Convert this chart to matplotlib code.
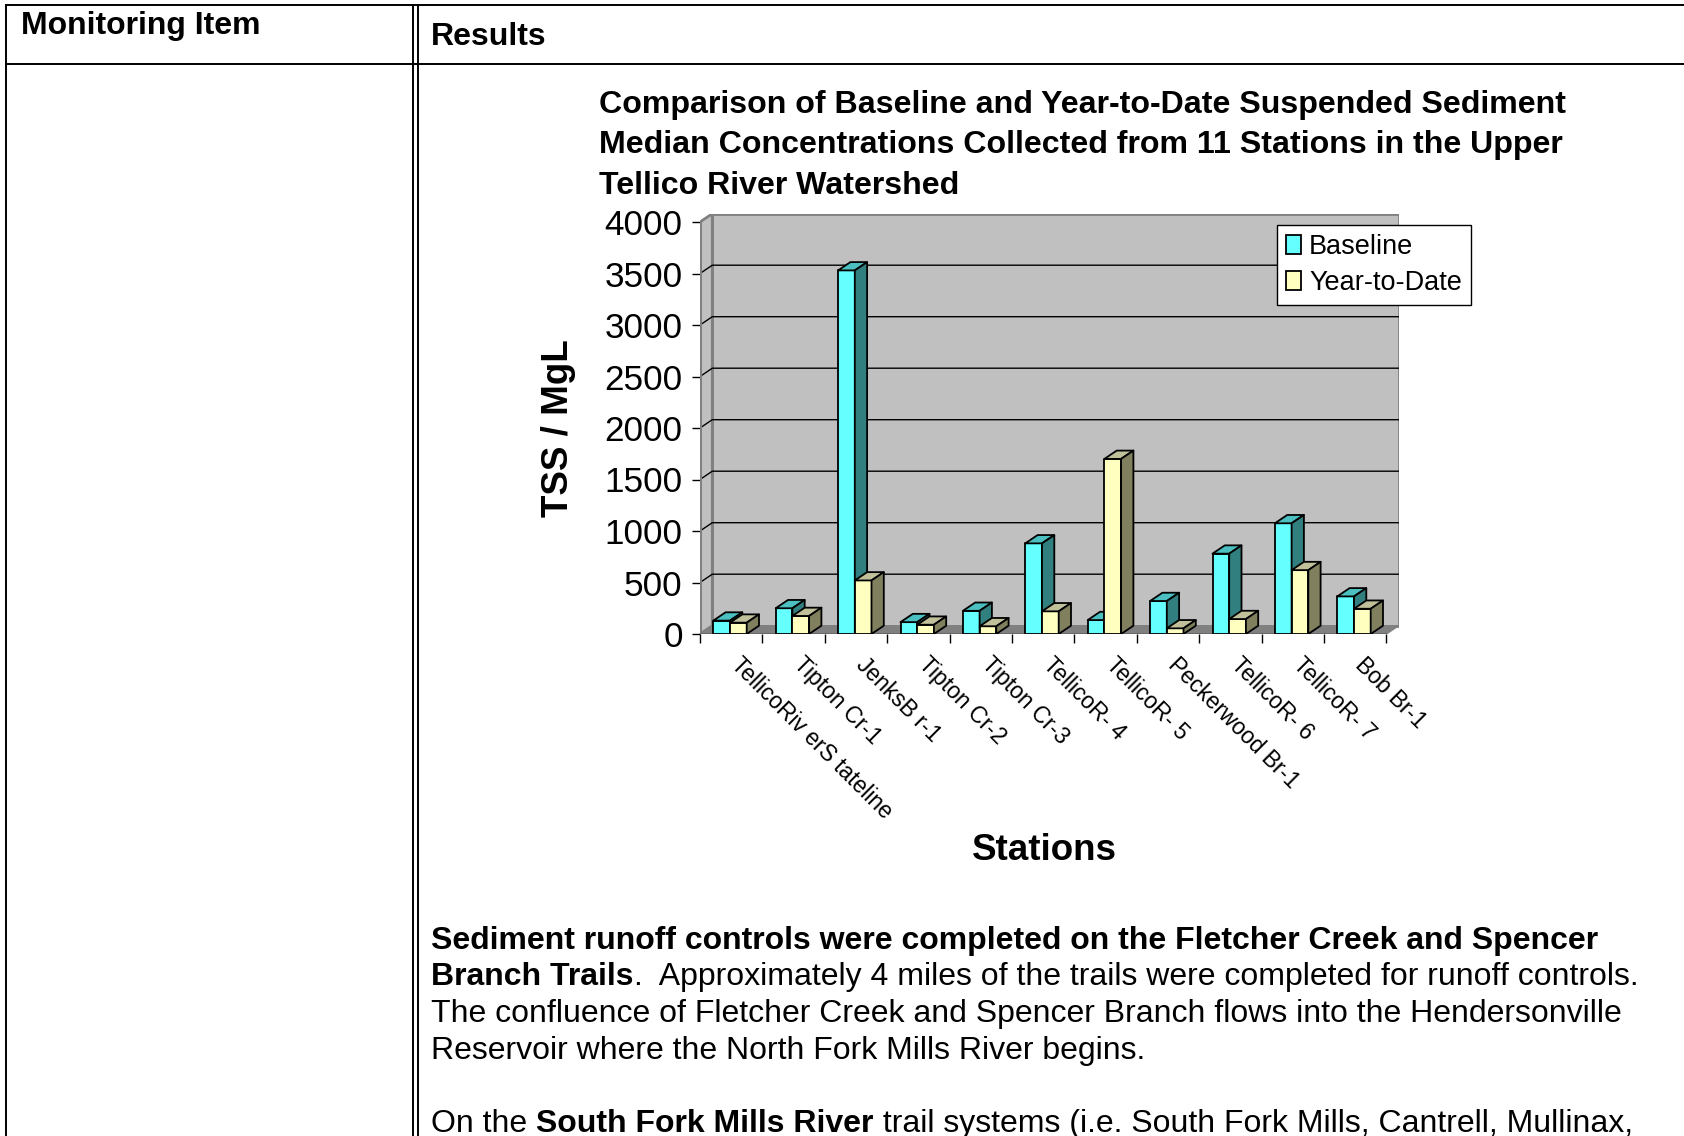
import matplotlib
matplotlib.use("Agg")
import matplotlib.pyplot as plt
import matplotlib.transforms as mtrans
from matplotlib.patches import Polygon, Patch

plt.rcParams['font.family'] = ['Liberation Sans', 'DejaVu Sans']

# ---- data ----
stations = ["TellicoRiv erS tateline", "Tipton Cr-1", "JenksB r-1", "Tipton Cr-2",
            "Tipton Cr-3", "TellicoR- 4", "TellicoR- 5", "Peckerwood Br-1",
            "TellicoR- 6", "TellicoR- 7", "Bob Br-1"]
baseline = [130, 250, 3530, 115, 225, 880, 135, 320, 780, 1075, 365]
year_to_date = [110, 175, 520, 90, 75, 220, 1700, 55, 145, 620, 245]
y_ticks = [0, 500, 1000, 1500, 2000, 2500, 3000, 3500, 4000]
series_names = ["Baseline", "Year-to-Date"]

title_lines = ["Comparison of Baseline and Year-to-Date Suspended Sediment",
               "Median Concentrations Collected from 11 Stations in the Upper",
               "Tellico River Watershed"]

body_lines = [
    [("Sediment runoff controls were completed on the Fletcher Creek and Spencer", "bold")],
    [("Branch Trails", "bold"),
     (".  Approximately 4 miles of the trails were completed for runoff controls.", "normal")],
    [("The confluence of Fletcher Creek and Spencer Branch flows into the Hendersonville", "normal")],
    [("Reservoir where the North Fork Mills River begins.", "normal")],
    [("On the", "normal"), (" South Fork Mills River", "bold"),
     (" trail systems (i.e. South Fork Mills, Cantrell, Mullinax,", "normal")],
]
body_baselines = [949, 985, 1022, 1059, 1132]

# colours (front, top, side)
cyan = ("#66FFFF", "#4CC0C0", "#327F7F")
cream = ("#FFFFC0", "#C0C09A", "#80805F")

W, H = 1684, 1136
fig = plt.figure(figsize=(W / 100, H / 100), dpi=100)

# background axes in pixel coordinates for the page/table
bg = fig.add_axes([0, 0, 1, 1])
bg.set_xlim(0, W)
bg.set_ylim(H, 0)
bg.axis('off')

lw_tab = 1.4
bg.plot([6, W], [5, 5], color='black', lw=lw_tab)
bg.plot([6, W], [64, 64], color='black', lw=lw_tab)
bg.plot([6, 6], [5, H], color='black', lw=lw_tab)
bg.plot([413, 413], [5, H], color='black', lw=lw_tab)
bg.plot([418, 418], [5, H], color='black', lw=lw_tab)

bg.text(21, 26, "Monitoring Item", fontsize=23, fontweight='bold', va='center', ha='left')
bg.text(431, 37, "Results", fontsize=23, fontweight='bold', va='center', ha='left')

for i, line in enumerate(title_lines):
    bg.text(599, 113 + i * 40.5, line, fontsize=23.1, fontweight='bold', va='baseline', ha='left')

bg.text(558, 428, "TSS / MgL", fontsize=26.5, fontweight='bold', rotation=90,
        va='center', ha='center')
bg.text(1044, 851, "Stations", fontsize=26.5, fontweight='bold', va='center', ha='center')

# ---- chart axes ----
cat_px = 62.4
px_per_unit = (634 - 222) / 4000.0
dx = 12.3 / cat_px
dy = 8.3 / px_per_unit
n = len(stations)
x_right = n + dx
y_top = 4000 + dy
left_px, bottom_px = 700, 634
width_px = x_right * cat_px
height_px = y_top * px_per_unit
ax = fig.add_axes([left_px / W, 1 - bottom_px / H, width_px / W, height_px / H])
ax.set_xlim(0, x_right)
ax.set_ylim(0, y_top)
ax.patch.set_visible(False)
for sp in ax.spines.values():
    sp.set_visible(False)

wall_grey = "#C0C0C0"
edge_grey = "#808080"
ax.add_patch(Polygon([(dx, dy), (n + dx, dy), (n + dx, 4000 + dy), (dx, 4000 + dy)],
                     closed=True, fc=wall_grey, ec=edge_grey, lw=2, zorder=0))
ax.add_patch(Polygon([(0, 0), (dx, dy), (dx, 4000 + dy), (0, 4000)],
                     closed=True, fc=wall_grey, ec=edge_grey, lw=2, zorder=0))
ax.add_patch(Polygon([(0, 0), (n, 0), (n + dx, dy), (dx, dy)],
                     closed=True, fc=edge_grey, ec=edge_grey, lw=1, zorder=0))
for v in y_ticks[1:-1]:
    ax.plot([0, dx, n + dx], [v, v + dy, v + dy], color='black', lw=1, zorder=1)
ax.plot([0, 0], [0, 4000], color=edge_grey, lw=2.2, zorder=2)
ax.plot([0, n], [0, 0], color='black', lw=1, zorder=2)

bar_w = 16.7 / cat_px
bar_off = 13.3 / cat_px


def bar3d(x0, h, cols):
    front, top, side = cols
    kw = dict(closed=True, ec='black', lw=1.3, joinstyle='round', zorder=3)
    ax.add_patch(Polygon([(x0, 0), (x0 + bar_w, 0), (x0 + bar_w, h), (x0, h)], fc=front, **kw))
    ax.add_patch(Polygon([(x0, h), (x0 + bar_w, h), (x0 + bar_w + dx, h + dy), (x0 + dx, h + dy)],
                         fc=top, **kw))
    ax.add_patch(Polygon([(x0 + bar_w, 0), (x0 + bar_w + dx, dy), (x0 + bar_w + dx, h + dy),
                          (x0 + bar_w, h)], fc=side, **kw))


for i in range(n):
    bar3d(i + bar_off, baseline[i], cyan)
    bar3d(i + bar_off + bar_w, year_to_date[i], cream)

ax.set_yticks(y_ticks)
ax.set_yticklabels([str(v) for v in y_ticks], fontsize=25.3)
ax.tick_params(axis='y', length=6, width=1, pad=6.5, colors='black')
ax.set_xticks(range(n + 1))
ax.set_xticklabels([])
ax.tick_params(axis='x', length=6.5, width=1)

lab_tr = mtrans.offset_copy(ax.transData, fig=fig, x=12, y=-19, units='dots')
for i, s in enumerate(stations):
    ax.text(i + 0.5, 0, s, transform=lab_tr, rotation=-45, rotation_mode='anchor',
            ha='left', va='top', fontsize=16.4)

handles = [Patch(fc=cyan[0], ec='black', lw=1.3, label=series_names[0]),
           Patch(fc=cream[0], ec='black', lw=1.3, label=series_names[1])]
ax.legend(handles=handles, loc='upper left', bbox_to_anchor=(1277 / W, 1 - 225 / H),
          bbox_transform=fig.transFigure, fontsize=19.5, frameon=True, fancybox=False,
          edgecolor='black', framealpha=1, handlelength=0.55, handleheight=0.7,
          handletextpad=0.3, borderpad=0.33, labelspacing=0.36, borderaxespad=0)
ax.get_legend().get_frame().set_linewidth(1)

# ---- body text with mixed weights ----
fig.canvas.draw()
renderer = fig.canvas.get_renderer()
for parts, yb in zip(body_lines, body_baselines):
    x = 431
    for s, wt in parts:
        t = bg.text(x, yb, s, fontsize=23.0, fontweight=wt, va='baseline', ha='left')
        x += t.get_window_extent(renderer).width

fig.savefig("out.png", dpi=100)
